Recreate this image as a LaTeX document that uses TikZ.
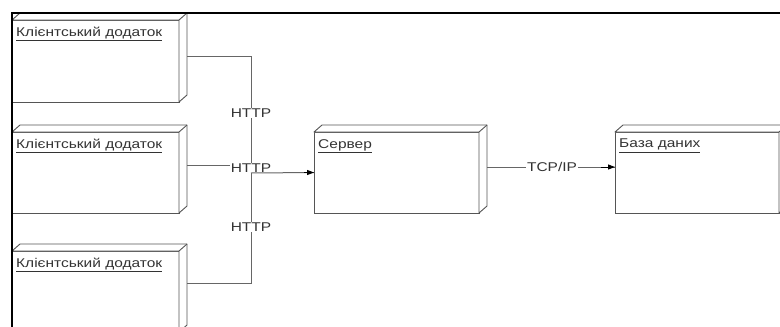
\documentclass[tikz,border=0pt]{standalone}
\usepackage{fontspec}
\setmainfont{Liberation Sans}[FakeStretch=1.22]
\usetikzlibrary{arrows.meta}
\definecolor{txtc}{HTML}{333333}
\definecolor{linec}{HTML}{666666}
\definecolor{boxc}{HTML}{555555}
\tikzset{
  udbox/.style={draw=boxc, line width=0.9pt, fill=white, minimum height=#1, inner sep=0pt, outer sep=0pt},
  udbox/.default=81pt,
  conn/.style={draw=linec, line width=1pt},
  tip/.style={-{Triangle[length=7pt,width=5pt]}, color=black},
  lbl/.style={font=\fontsize{12.7}{14}\selectfont, text=txtc, fill=white, inner sep=1pt},
  title/.style={font=\fontsize{12.7}{14}\selectfont, text=txtc, anchor=north west, inner sep=0pt},
}
\newcommand{\udtitle}[1]{\underline{#1}}
\newcommand{\depth}[1]{%
  \draw[draw=boxc, line width=0.9pt, fill=white, line join=round]
    (#1.north west) -- ++(8,-7) -- ([shift={(8pt,7pt)}]#1.north east) -- ([shift={(8pt,7pt)}]#1.south east) -- (#1.south east) -- (#1.north east) -- cycle;
  \draw[draw=boxc, line width=0.9pt] (#1.north east) -- ++(8,-7);}
\begin{document}
\begin{tikzpicture}[x=1pt,y=-1pt]
\useasboundingbox (0,0) rectangle (780,327);
\clip (0,0) rectangle (780,327);
\fill[white] (0,0) rectangle (780,327);
% nodes
\node[udbox, minimum width=167pt, minimum height=82pt] (c1) at (95.5,61) {};
\node[udbox, minimum width=167pt] (c2) at (95.5,172.5) {};
\node[udbox, minimum width=167pt] (c3) at (95.5,291.5) {};
\node[udbox, minimum width=165pt] (srv) at (396.5,172.5) {};
\node[udbox, minimum width=164pt] (db) at (697,172.5) {};
\depth{c1}\depth{c2}\depth{c3}\depth{srv}\depth{db}
% titles
\node[title] (t1) at ([shift={(4pt,-7pt)}]c1.north west) {\udtitle{Клієнтський додаток}};
\node[title] (t2) at ([shift={(4pt,-7pt)}]c2.north west) {\udtitle{Клієнтський додаток}};
\node[title] (t3) at ([shift={(4pt,-7pt)}]c3.north west) {\udtitle{Клієнтський додаток}};
\node[title] (t4) at ([shift={(4pt,-7pt)}]srv.north west) {\udtitle{Сервер}};
\node[title] (t5) at ([shift={(4pt,-7pt)}]db.north west) {\udtitle{База даних}};
% junctions
\coordinate (j) at (251,173);
\coordinate (j2) at (251,165);
% connectors
\draw[conn] ([shift={(8pt,5pt)}]c1.east) -| (j);
\draw[conn] ([shift={(8pt,7.5pt)}]c2.east) -- (j2) -- (j);
\draw[conn] ([shift={(8pt,8.5pt)}]c3.east) -| (j);
\draw[conn] ([shift={(8pt,5.5pt)}]srv.east) -- ([yshift=5.5pt]db.west);
% labels
\node[lbl] (h1) at (251,113) {HTTP};
\node[lbl] (h2) at (251,168) {HTTP};
\node[lbl] (h3) at (251,227) {HTTP};
\node[lbl] (tcp) at (552,167) {TCP/IP};
% arrow segments on top
\draw[conn] (j) -- (srv.west);
\draw[conn, tip] ([xshift=-10pt]srv.west) -- (srv.west);
\draw[conn, tip] ([shift={(-14pt,5.5pt)}]db.west) -- ([yshift=5.5pt]db.west);
% frame
\draw[black, line width=2pt] (12,328) -- (12,13) -- (781,13);
\end{tikzpicture}
\end{document}
